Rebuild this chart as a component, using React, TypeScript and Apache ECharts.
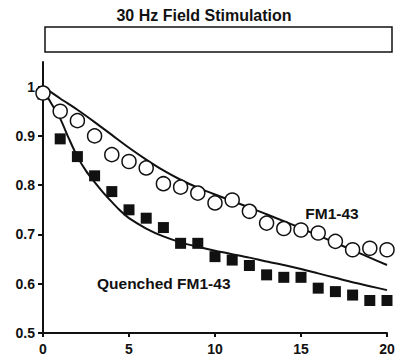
import React, { useEffect, useRef } from "react";
import * as echarts from "echarts";

const titleText = "30 Hz Field Stimulation";
const xTicks = [0, 5, 10, 15, 20];
const yTicks = [0.5, 0.6, 0.7, 0.8, 0.9, 1];

const stimX = [0, 1, 2, 3, 4, 5, 6, 7, 8, 9, 10, 11, 12, 13, 14, 15, 16, 17, 18, 19, 20];
const fm143 = [0.987, 0.95, 0.931, 0.9, 0.862, 0.848, 0.835, 0.803, 0.796, 0.784, 0.764, 0.77, 0.747, 0.723, 0.712, 0.709, 0.703, 0.686, 0.669, 0.672, 0.669];
const quenched = [0.985, 0.894, 0.858, 0.819, 0.787, 0.75, 0.733, 0.714, 0.682, 0.682, 0.655, 0.648, 0.637, 0.618, 0.613, 0.613, 0.591, 0.584, 0.577, 0.566, 0.566];

const fitUpperX = [0, 1, 2, 3, 4, 5, 6, 7, 8, 9, 10, 11, 12, 13, 14, 15, 16, 17, 18, 19, 20];
const fitUpperY = [1.0, 0.976, 0.953, 0.928, 0.902, 0.876, 0.852, 0.83, 0.811, 0.795, 0.781, 0.768, 0.755, 0.741, 0.727, 0.713, 0.698, 0.683, 0.668, 0.653, 0.638];

const fitLowerX = [0, 0.5, 1, 1.5, 2, 2.5, 3, 3.5, 4, 4.5, 5, 6, 7, 8, 9, 10, 11, 12, 13, 14, 15, 16, 17, 18, 19, 20];
const fitLowerY = [0.995, 0.965, 0.935, 0.895, 0.858, 0.829, 0.806, 0.785, 0.766, 0.748, 0.733, 0.712, 0.696, 0.684, 0.675, 0.667, 0.66, 0.653, 0.645, 0.638, 0.63, 0.621, 0.612, 0.603, 0.595, 0.587];

const labelUpper = "FM1-43";
const labelLower = "Quenched FM1-43";

const zip = (xs: number[], ys: number[]) => xs.map((x, i) => [x, ys[i]]);

export default function App() {
  const ref = useRef<HTMLDivElement>(null);
  useEffect(() => {
    if (!ref.current) return;
    const chart = echarts.init(ref.current, null, { renderer: "svg" });
    const font = "'Liberation Sans', Arial, sans-serif";
    chart.setOption({
      animation: false,
      backgroundColor: "#ffffff",
      grid: { left: 43, right: 9, top: 62, bottom: 30, outerBoundsMode: "none" },
      xAxis: {
        type: "value",
        min: 0,
        max: 20,
        interval: 5,
        splitLine: { show: false },
        axisLine: { show: true, lineStyle: { color: "#111", width: 2 } },
        axisTick: { show: true, length: 4, lineStyle: { color: "#111", width: 2 }, customValues: xTicks },
        axisLabel: { color: "#111", fontFamily: font, fontWeight: "bold", fontSize: 14, margin: 9, customValues: xTicks },
      },
      yAxis: {
        type: "value",
        min: 0.5,
        max: 1.05,
        interval: 0.1,
        splitLine: { show: false },
        axisLine: { show: true, lineStyle: { color: "#111", width: 2 } },
        axisTick: { show: true, length: 5, lineStyle: { color: "#111", width: 2 }, customValues: yTicks },
        axisLabel: { color: "#111", fontFamily: font, fontWeight: "bold", fontSize: 14, margin: 8, customValues: yTicks },
      },
      graphic: [
        {
          type: "rect",
          shape: { x: 45, y: 27, width: 347, height: 25 },
          style: { fill: "#fff", stroke: "#111", lineWidth: 1.5 },
        },
        {
          type: "text",
          x: 204,
          y: 15,
          style: { text: titleText, fill: "#111", font: `bold 16px ${font}`, textAlign: "center", textVerticalAlign: "middle" },
        },
        {
          type: "text",
          x: 332,
          y: 213,
          z: 10,
          style: { text: labelUpper, fill: "#111", font: `bold 15.5px ${font}`, textAlign: "center", textVerticalAlign: "middle" },
        },
        {
          type: "text",
          x: 97,
          y: 283,
          z: 10,
          style: { text: labelLower, fill: "#111", font: `bold 15.5px ${font}`, textAlign: "left", textVerticalAlign: "middle" },
        },
      ],
      series: [
        {
          type: "line",
          data: zip(fitUpperX, fitUpperY),
          smooth: 0.3,
          showSymbol: false,
          lineStyle: { color: "#111", width: 2 },
          z: 2,
        },
        {
          type: "line",
          data: zip(fitLowerX, fitLowerY),
          smooth: 0.3,
          showSymbol: false,
          lineStyle: { color: "#111", width: 2 },
          z: 2,
        },
        {
          type: "scatter",
          data: zip(stimX, quenched),
          symbol: "rect",
          symbolSize: 11,
          itemStyle: { color: "#111", opacity: 1 },
          z: 3,
        },
        {
          type: "scatter",
          data: zip(stimX, fm143),
          symbol: "circle",
          symbolSize: 14,
          itemStyle: { color: "#fff", borderColor: "#111", borderWidth: 1.5, opacity: 1 },
          z: 4,
        },
      ],
    });
    return () => chart.dispose();
  }, []);
  return <div ref={ref} style={{ position: "fixed", left: 0, top: 0, width: 396, height: 363 }} />;
}
